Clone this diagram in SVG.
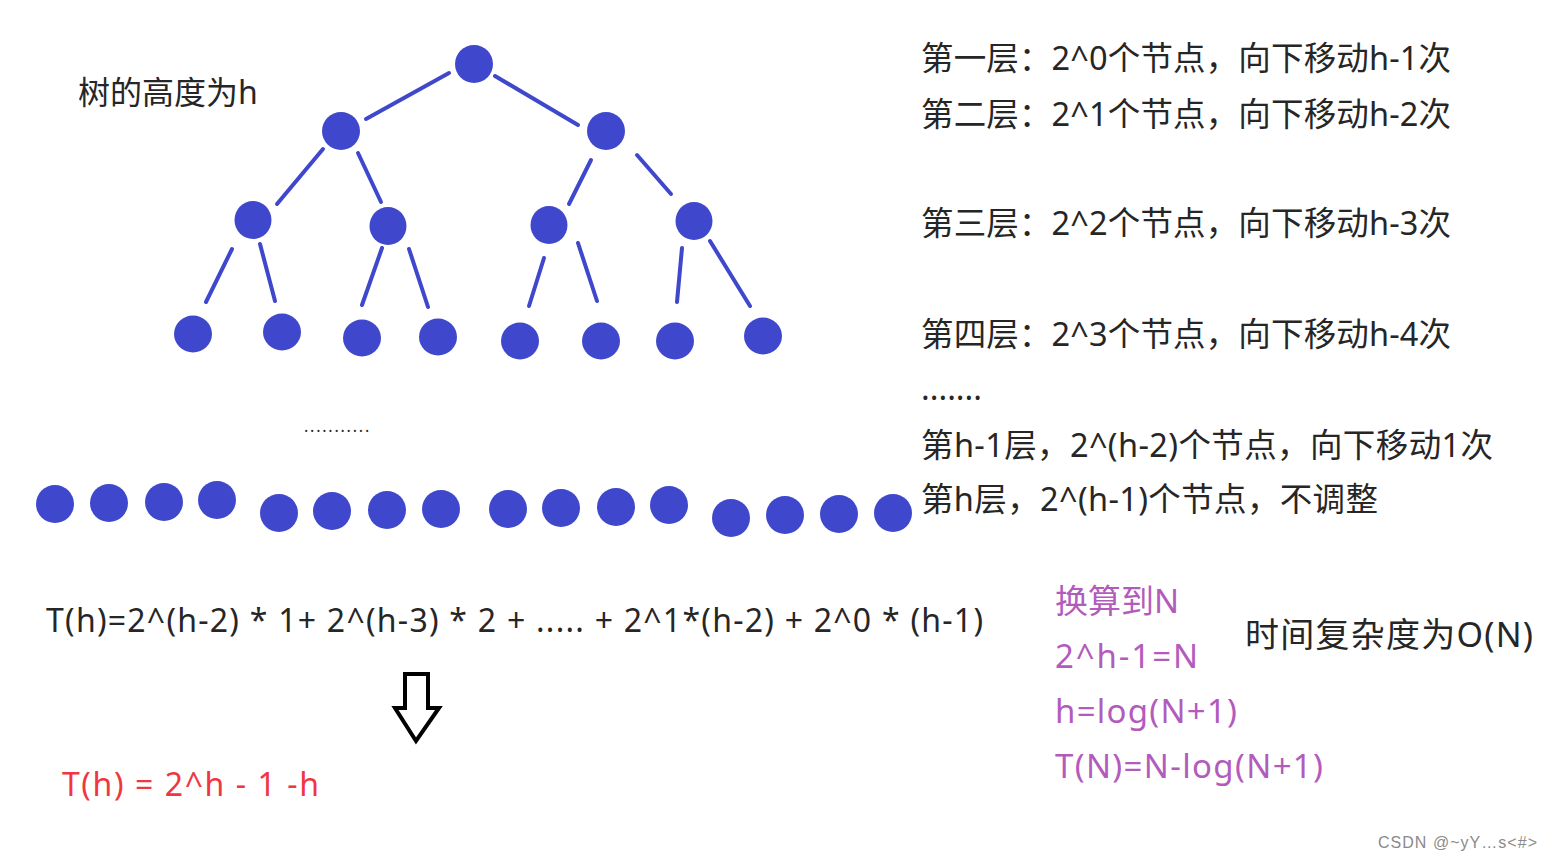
<svg xmlns="http://www.w3.org/2000/svg" width="1552" height="860" viewBox="0 0 1552 860">
<style>
.n{fill:#3f48cc}
.e{stroke:#3f48cc;stroke-width:4;stroke-linecap:round;fill:none}
.t{font-family:"Noto Sans","Noto Sans CJK SC",sans-serif;fill:#262626}
.r{font-size:32.5px}
.p{font-family:"Noto Sans","Noto Sans CJK SC",sans-serif;fill:#b35bbd;font-size:33px}
</style>
<rect width="1552" height="860" fill="#ffffff"/>
<g id="connectors">
<line class="e" x1="449" y1="73" x2="366" y2="119"/>
<line class="e" x1="495" y1="76" x2="578" y2="125"/>
<line class="e" x1="323" y1="149" x2="277" y2="204"/>
<line class="e" x1="358" y1="153" x2="381" y2="202"/>
<line class="e" x1="591" y1="160" x2="569" y2="204"/>
<line class="e" x1="637" y1="155" x2="671" y2="194"/>
<line class="e" x1="232" y1="249" x2="206" y2="302"/>
<line class="e" x1="260" y1="244" x2="275" y2="301"/>
<line class="e" x1="382" y1="248" x2="362" y2="305"/>
<line class="e" x1="409" y1="249" x2="428" y2="307"/>
<line class="e" x1="544" y1="258" x2="529" y2="306"/>
<line class="e" x1="578" y1="243" x2="597" y2="301"/>
<line class="e" x1="682" y1="248" x2="677" y2="302"/>
<line class="e" x1="710" y1="241" x2="750" y2="306"/>
</g>
<g id="tree">
<g id="n1"><circle class="n" cx="474" cy="64" r="19"/></g>
<g id="n2"><circle class="n" cx="341" cy="131" r="19"/></g>
<g id="n3"><circle class="n" cx="606" cy="131" r="19"/></g>
<g id="n4"><ellipse class="n" cx="253" cy="220" rx="18.5" ry="19"/></g>
<g id="n5"><ellipse class="n" cx="388" cy="226" rx="18.5" ry="19"/></g>
<g id="n6"><ellipse class="n" cx="549" cy="225" rx="18.5" ry="19"/></g>
<g id="n7"><ellipse class="n" cx="694" cy="221" rx="18.5" ry="19"/></g>
<g id="n8"><ellipse class="n" cx="193" cy="334" rx="19" ry="18.5"/></g>
<g id="n9"><ellipse class="n" cx="282" cy="332" rx="19" ry="18.5"/></g>
<g id="n10"><ellipse class="n" cx="362" cy="338" rx="19" ry="18.5"/></g>
<g id="n11"><ellipse class="n" cx="438" cy="337" rx="19" ry="18.5"/></g>
<g id="n12"><ellipse class="n" cx="520" cy="341" rx="19" ry="18.5"/></g>
<g id="n13"><ellipse class="n" cx="601" cy="341" rx="19" ry="18.5"/></g>
<g id="n14"><ellipse class="n" cx="675" cy="341" rx="19" ry="18.5"/></g>
<g id="n15"><ellipse class="n" cx="763" cy="336" rx="19" ry="18.5"/></g>
</g>
<g id="bottom-row">
<circle class="n" cx="55" cy="504" r="19"/>
<circle class="n" cx="109" cy="503" r="19"/>
<circle class="n" cx="164" cy="502" r="19"/>
<circle class="n" cx="217" cy="500" r="19"/>
<circle class="n" cx="279" cy="513" r="19"/>
<circle class="n" cx="332" cy="511" r="19"/>
<circle class="n" cx="387" cy="510" r="19"/>
<circle class="n" cx="441" cy="509" r="19"/>
<circle class="n" cx="508" cy="509" r="19"/>
<circle class="n" cx="561" cy="508" r="19"/>
<circle class="n" cx="616" cy="507" r="19"/>
<circle class="n" cx="669" cy="505" r="19"/>
<circle class="n" cx="731" cy="518" r="19"/>
<circle class="n" cx="785" cy="515" r="19"/>
<circle class="n" cx="839" cy="514" r="19"/>
<circle class="n" cx="893" cy="513" r="19"/>
</g>
<text class="t" x="304" y="432" font-size="16" letter-spacing="1.8">...........</text>
<text class="t" x="78" y="104" font-size="32">树的高度为h</text>
<g id="levels" class="t r">
<text x="921" y="70" textLength="530" lengthAdjust="spacing">第一层：2^0个节点，向下移动h-1次</text>
<text x="921" y="126" textLength="530" lengthAdjust="spacing">第二层：2^1个节点，向下移动h-2次</text>
<text x="921" y="235" textLength="530" lengthAdjust="spacing">第三层：2^2个节点，向下移动h-3次</text>
<text x="921" y="346" textLength="530" lengthAdjust="spacing">第四层：2^3个节点，向下移动h-4次</text>
<text x="921" y="400">.......</text>
<text x="921" y="457" textLength="572" lengthAdjust="spacing">第h-1层，2^(h-2)个节点，向下移动1次</text>
<text x="921" y="511" textLength="457" lengthAdjust="spacing">第h层，2^(h-1)个节点，不调整</text>
</g>
<text class="t" x="46" y="632" font-size="32" textLength="937" lengthAdjust="spacing">T(h)=2^(h-2) * 1+ 2^(h-3) * 2 + ..... + 2^1*(h-2) + 2^0 * (h-1)</text>
<path id="arrow" d="M405,674 H428 V708 H439 L416,741 L395,708 H405 Z" fill="none" stroke="#000" stroke-width="4" stroke-linejoin="miter"/>
<text x="62" y="796" font-family="Noto Sans,Noto Sans CJK SC,sans-serif" font-size="32" fill="#f0373f" textLength="257" lengthAdjust="spacing">T(h) = 2^h - 1 -h</text>
<g id="convert">
<text class="p" x="1055" y="613">换算到N</text>
<text class="p" x="1055" y="668" textLength="143" lengthAdjust="spacing">2^h-1=N</text>
<text class="p" x="1055" y="723" textLength="182" lengthAdjust="spacing">h=log(N+1)</text>
<text class="p" x="1055" y="778" textLength="268" lengthAdjust="spacing">T(N)=N-log(N+1)</text>
</g>
<text class="t" x="1245" y="647" font-size="34" textLength="288" lengthAdjust="spacing">时间复杂度为O(N)</text>
<text x="1378" y="848" font-family="Liberation Sans,Noto Sans CJK SC,sans-serif" font-size="16" fill="#8a8a8a" textLength="159" lengthAdjust="spacing">CSDN @~yY…s&lt;#&gt;</text>
</svg>
